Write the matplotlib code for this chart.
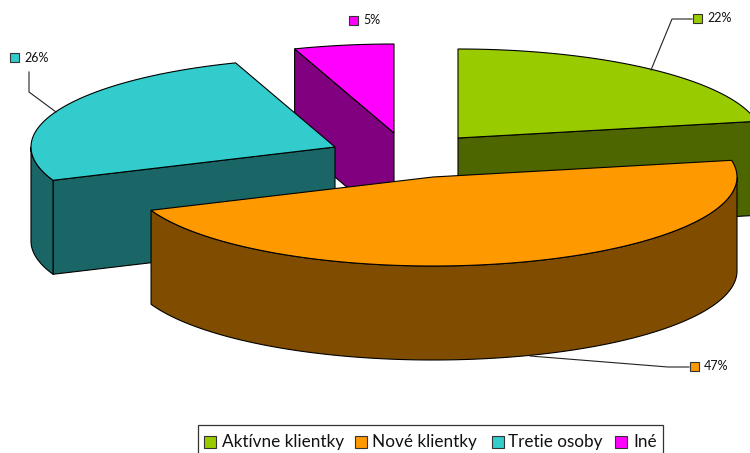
import numpy as np
import matplotlib
matplotlib.use('Agg')
import matplotlib.pyplot as plt
from matplotlib.patches import Polygon, Rectangle

plt.rcParams['font.family'] = ['Lato', 'DejaVu Sans']

# Values of the pie, clockwise from the top
labels = ['Aktívne klientky', 'Nové klientky', 'Tretie osoby', 'Iné']
values = [22.0, 46.9, 25.8, 5.3]
topColors = ['#99CC00', '#FF9900', '#33CCCC', '#FF00FF']
sideColors = ['#4D6600', '#804D00', '#1A6666', '#800080']

# Exploded slice centres and the tilted pie shape, in pixels
centres = [(458, 138), (433, 177), (335, 147), (394, 133)]
rx, ry, depth = 304, 89, 94
drawOrder = [3, 0, 2, 1]

# Data label squares and leader lines
labelSquares = [(693, 14), (690, 362), (10, 53), (349, 16)]
leaders = [[(651, 70), (672, 19), (692, 19)],
           [(530, 356), (668, 367), (689, 367)],
           [(29, 72), (29, 92), (56, 112)],
           [], ]
legendSquares = [204, 355, 492, 615]
legendTexts = [222, 372, 508, 633]

fig = plt.figure(figsize=(7.5, 4.53), dpi=100)
ax = fig.add_axes([0, 0, 1, 1])
ax.set_xlim(0, 750)
ax.set_ylim(453, 0)
ax.axis('off')


def rimPoints(c, t, dy=0):
    return np.column_stack([c[0] + rx * np.sin(t), c[1] - ry * np.cos(t) + dy])


def face(pts, color):
    ax.add_patch(Polygon(pts, closed=True, facecolor=color, edgecolor='black', linewidth=0.8))


edges = np.radians(np.cumsum([0] + values) * 3.6)

for i in drawOrder:
    c = centres[i]
    a, b = edges[i], edges[i + 1]
    side = sideColors[i]

    # Walls of the cut that face the viewer
    if np.sin(a) < -1e-6:
        p = rimPoints(c, np.array([a]))[0]
        face([c, p, (p[0], p[1] + depth), (c[0], c[1] + depth)], side)
    if np.sin(b) > 1e-6:
        p = rimPoints(c, np.array([b]))[0]
        face([c, p, (p[0], p[1] + depth), (c[0], c[1] + depth)], side)

    # Outer rim, only the front half shows
    lo, hi = max(a, np.pi / 2), min(b, 3 * np.pi / 2)
    if lo < hi:
        t = np.linspace(lo, hi, 120)
        face(np.vstack([rimPoints(c, t), rimPoints(c, t[::-1], depth)]), side)

    # Top of the slice
    t = np.linspace(a, b, 160)
    face(np.vstack([[c], rimPoints(c, t)]), topColors[i])

for line in leaders:
    if line:
        xs, ys = zip(*line)
        ax.plot(xs, ys, color='#222222', linewidth=0.8, solid_joinstyle='miter')

for i, (x, y) in enumerate(labelSquares):
    ax.add_patch(Rectangle((x, y), 9, 9, facecolor=topColors[i], edgecolor='#333333', linewidth=0.8))
    ax.text(x + 14, y + 4.5, f'{values[i]:.0f}%', fontsize=9, va='center', ha='left', color='#111111')

# Legend box runs off the bottom of the picture
ax.add_patch(Rectangle((197.5, 424.5), 465.5, 40, facecolor='white', edgecolor='#333333', linewidth=0.9))
for i, name in enumerate(labels):
    ax.add_patch(Rectangle((legendSquares[i], 436), 12, 12, facecolor=topColors[i],
                           edgecolor='#333333', linewidth=0.8))
    ax.text(legendTexts[i], 442, name, fontsize=12.3, va='center', ha='left', color='#111111')

fig.savefig('out.png', dpi=100)
